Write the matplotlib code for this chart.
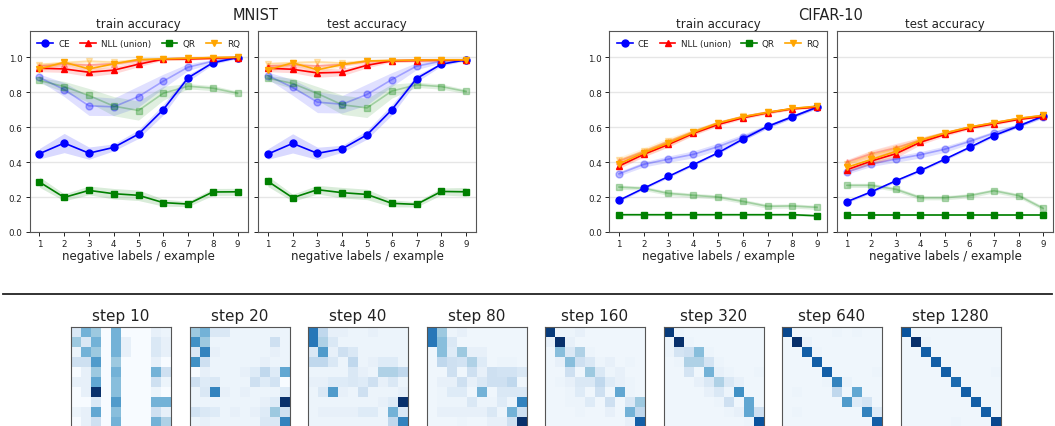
import numpy as np
import matplotlib
matplotlib.use("Agg")
import matplotlib.pyplot as plt
from matplotlib.colors import PowerNorm

# ---------------------------------------------------------------- data
neg_labels = [1, 2, 3, 4, 5, 6, 7, 8, 9]
methods = ["CE", "NLL (union)", "QR", "RQ"]

# MNIST train accuracy (solid = main run, faded = alternative run)
mnist_train_ce = [0.448, 0.509, 0.451, 0.484, 0.560, 0.700, 0.882, 0.968, 0.998]
mnist_train_ce_alt = [0.884, 0.815, 0.722, 0.716, 0.775, 0.863, 0.943, 0.977, 0.998]
mnist_train_nll = [0.937, 0.933, 0.914, 0.926, 0.960, 0.989, 0.990, 0.994, 0.998]
mnist_train_nll_alt = [0.950, 0.960, 0.955, 0.962, 0.980, 0.990, 0.995, 0.997, 0.999]
mnist_train_qr = [0.286, 0.198, 0.238, 0.219, 0.210, 0.168, 0.160, 0.229, 0.230]
mnist_train_qr_alt = [0.867, 0.832, 0.781, 0.720, 0.695, 0.794, 0.834, 0.823, 0.794]
mnist_train_rq = [0.933, 0.971, 0.933, 0.962, 0.987, 0.990, 0.994, 0.998, 1.000]
mnist_train_rq_alt = [0.958, 0.968, 0.977, 0.971, 0.985, 0.990, 0.994, 0.998, 1.000]

# MNIST test accuracy
mnist_test_ce = [0.446, 0.507, 0.450, 0.476, 0.556, 0.699, 0.878, 0.960, 0.985]
mnist_test_ce_alt = [0.895, 0.827, 0.743, 0.731, 0.787, 0.872, 0.949, 0.977, 0.985]
mnist_test_nll = [0.937, 0.931, 0.910, 0.914, 0.954, 0.979, 0.981, 0.983, 0.983]
mnist_test_nll_alt = [0.950, 0.955, 0.950, 0.958, 0.975, 0.981, 0.983, 0.984, 0.985]
mnist_test_qr = [0.290, 0.196, 0.242, 0.225, 0.215, 0.164, 0.158, 0.232, 0.230]
mnist_test_qr_alt = [0.880, 0.850, 0.792, 0.728, 0.710, 0.806, 0.842, 0.832, 0.804]
mnist_test_rq = [0.928, 0.968, 0.928, 0.958, 0.979, 0.981, 0.983, 0.985, 0.985]
mnist_test_rq_alt = [0.962, 0.968, 0.973, 0.966, 0.979, 0.981, 0.983, 0.985, 0.985]

# CIFAR-10 train accuracy
cifar_train_ce = [0.181, 0.250, 0.318, 0.385, 0.453, 0.531, 0.604, 0.659, 0.714]
cifar_train_ce_alt = [0.333, 0.387, 0.417, 0.444, 0.488, 0.541, 0.604, 0.661, 0.714]
cifar_train_nll = [0.377, 0.444, 0.501, 0.564, 0.615, 0.653, 0.682, 0.705, 0.714]
cifar_train_nll_alt = [0.405, 0.458, 0.515, 0.572, 0.624, 0.660, 0.686, 0.706, 0.718]
cifar_train_qr = [0.099, 0.099, 0.099, 0.099, 0.099, 0.099, 0.099, 0.099, 0.093]
cifar_train_qr_alt = [0.257, 0.250, 0.221, 0.210, 0.200, 0.175, 0.147, 0.149, 0.141]
cifar_train_rq = [0.390, 0.453, 0.509, 0.570, 0.623, 0.659, 0.684, 0.707, 0.720]
cifar_train_rq_alt = [0.410, 0.462, 0.520, 0.575, 0.626, 0.661, 0.686, 0.706, 0.720]

# CIFAR-10 test accuracy
cifar_test_ce = [0.173, 0.230, 0.293, 0.352, 0.417, 0.484, 0.552, 0.606, 0.663]
cifar_test_ce_alt = [0.343, 0.390, 0.417, 0.442, 0.474, 0.518, 0.566, 0.610, 0.659]
cifar_test_nll = [0.356, 0.406, 0.448, 0.514, 0.558, 0.594, 0.619, 0.644, 0.661]
cifar_test_nll_alt = [0.400, 0.448, 0.482, 0.526, 0.566, 0.600, 0.625, 0.650, 0.667]
cifar_test_qr = [0.097, 0.097, 0.097, 0.097, 0.097, 0.097, 0.097, 0.097, 0.097]
cifar_test_qr_alt = [0.267, 0.267, 0.244, 0.196, 0.196, 0.208, 0.236, 0.208, 0.135]
cifar_test_rq = [0.370, 0.415, 0.461, 0.524, 0.566, 0.600, 0.625, 0.650, 0.667]
cifar_test_rq_alt = [0.390, 0.440, 0.475, 0.528, 0.568, 0.601, 0.626, 0.651, 0.668]

# spread (half-width of shaded band) per series
mnist_train_ce_sd = [0.03, 0.055, 0.035, 0.02, 0.025, 0.03, 0.02, 0.01, 0.005]
mnist_train_ce_alt_sd = [0.02, 0.04, 0.055, 0.05, 0.06, 0.04, 0.02, 0.01, 0.005]
mnist_train_nll_sd = [0.02, 0.02, 0.025, 0.02, 0.015, 0.006, 0.005, 0.004, 0.003]
mnist_train_qr_sd = [0.03, 0.02, 0.025, 0.03, 0.03, 0.02, 0.015, 0.02, 0.02]
mnist_train_qr_alt_sd = [0.015, 0.03, 0.04, 0.055, 0.055, 0.04, 0.015, 0.015, 0.012]
mnist_train_rq_sd = [0.015, 0.01, 0.02, 0.01, 0.005, 0.004, 0.004, 0.003, 0.002]

mnist_test_ce_sd = [0.03, 0.055, 0.035, 0.02, 0.025, 0.03, 0.02, 0.01, 0.005]
mnist_test_ce_alt_sd = [0.02, 0.045, 0.06, 0.05, 0.06, 0.04, 0.02, 0.01, 0.005]
mnist_test_nll_sd = [0.02, 0.02, 0.025, 0.02, 0.015, 0.006, 0.005, 0.004, 0.003]
mnist_test_qr_sd = [0.03, 0.02, 0.025, 0.03, 0.03, 0.02, 0.015, 0.02, 0.025]
mnist_test_qr_alt_sd = [0.015, 0.03, 0.04, 0.055, 0.055, 0.04, 0.015, 0.015, 0.012]
mnist_test_rq_sd = [0.015, 0.01, 0.02, 0.01, 0.005, 0.004, 0.004, 0.003, 0.002]

cifar_train_ce_sd = [0.008, 0.008, 0.008, 0.008, 0.008, 0.008, 0.008, 0.008, 0.008]
cifar_train_ce_alt_sd = [0.012, 0.015, 0.018, 0.02, 0.02, 0.018, 0.012, 0.01, 0.008]
cifar_train_nll_sd = [0.015, 0.015, 0.015, 0.012, 0.01, 0.008, 0.008, 0.006, 0.006]
cifar_train_qr_sd = [0.006, 0.006, 0.006, 0.006, 0.006, 0.006, 0.006, 0.006, 0.006]
cifar_train_qr_alt_sd = [0.012, 0.012, 0.012, 0.012, 0.012, 0.012, 0.012, 0.012, 0.012]
cifar_train_rq_sd = [0.02, 0.02, 0.02, 0.015, 0.01, 0.008, 0.008, 0.006, 0.006]

cifar_test_ce_sd = [0.008, 0.008, 0.008, 0.008, 0.008, 0.008, 0.008, 0.008, 0.008]
cifar_test_ce_alt_sd = [0.012, 0.015, 0.018, 0.018, 0.018, 0.015, 0.012, 0.01, 0.008]
cifar_test_nll_sd = [0.015, 0.02, 0.025, 0.015, 0.01, 0.008, 0.008, 0.006, 0.006]
cifar_test_qr_sd = [0.006, 0.006, 0.006, 0.006, 0.006, 0.006, 0.006, 0.006, 0.006]
cifar_test_qr_alt_sd = [0.012, 0.012, 0.012, 0.012, 0.012, 0.012, 0.012, 0.012, 0.012]
cifar_test_rq_sd = [0.02, 0.025, 0.025, 0.015, 0.01, 0.008, 0.008, 0.006, 0.006]

# label-confusion matrices over training (intensity 0..10)
step_labels = ["step 10", "step 20", "step 40", "step 80",
               "step 160", "step 320", "step 640", "step 1280"]
conf_step10 = [
    [1, 4, 3, 0, 4, 0, 0, 0, 0.5, 0.3],
    [3, 1, 4, 0, 4, 0.5, 0, 0, 1, 0.5],
    [0.3, 4, 3, 0, 4, 0.5, 0, 0, 1, 0.5],
    [1.5, 1.5, 5, 0, 3, 0, 0, 0, 0.5, 0],
    [0, 0.5, 3, 0, 4, 0, 0, 0, 4, 1.5],
    [0.5, 0.5, 4.5, 0, 3.5, 0, 0, 0, 1.5, 0.3],
    [0, 0.5, 9.5, 0, 3.5, 0, 0, 0, 0.3, 0],
    [0, 0, 1, 0, 5, 0, 0, 0, 4, 4],
    [0.3, 0.5, 4.5, 0, 3.5, 0, 0, 0, 1.5, 0.5],
    [0, 0.5, 1.5, 0, 4, 0, 0, 0, 4, 2.5],
]
conf_step20 = [
    [3, 4, 1, 1, 0.3, 0.3, 0.3, 0.3, 0.3, 0.3],
    [5.5, 3, 0.3, 0.3, 0.3, 0.3, 0.3, 0.3, 1.5, 0.3],
    [1, 6, 0.5, 0.3, 0.3, 0.3, 0.3, 0.3, 0.5, 0.3],
    [5.5, 1.5, 0.3, 0.3, 0.3, 0.3, 0.3, 0.5, 0.3, 0.3],
    [0, 0.5, 0.3, 0.3, 0.3, 0.5, 0.8, 2, 0.8, 4.5],
    [1.5, 0.8, 1, 0.3, 0.3, 0.3, 1.5, 0.8, 1.3, 0],
    [0.3, 1, 6, 0.5, 0.3, 0.5, 0.3, 0.3, 0.3, 0.8],
    [0.3, 0.3, 0.3, 0.3, 0.3, 0.3, 0.3, 0.5, 0.8, 9.5],
    [1.3, 1, 0.8, 0.3, 0.5, 0.3, 0.5, 0.8, 3, 1.5],
    [0.3, 0.5, 0.3, 0.3, 0.3, 0.3, 0.3, 1, 1, 6],
]
conf_step40 = [
    [6.5, 2, 0.5, 0.5, 0.3, 0.3, 0.5, 0.3, 0.3, 0.3],
    [6.5, 2.5, 1, 0.3, 0.3, 0.3, 0.3, 0.3, 0.3, 0.3],
    [1, 5, 0.5, 1.5, 1, 0.3, 0.3, 0.3, 0.3, 0.3],
    [2, 2, 1, 0.3, 2, 0.3, 0.5, 0.8, 0.8, 0.3],
    [0.3, 0.3, 0.3, 0.3, 1, 0.5, 0.3, 2.5, 2.5, 2],
    [0.5, 0.5, 0.8, 0.8, 1, 0.8, 1.5, 0.5, 1, 0.3],
    [0.3, 1, 5, 0.5, 0.3, 1.5, 0.3, 0.3, 0.3, 0.5],
    [0.3, 0.3, 0.3, 0.3, 0.3, 0.3, 0.3, 0.5, 0.8, 9.5],
    [0.3, 0.5, 0.5, 0.5, 0.5, 0.8, 0.8, 0.3, 4, 1],
    [0.3, 0.3, 0.3, 0.3, 0.3, 0.3, 0.3, 0.3, 2, 6],
]
conf_step80 = [
    [6.5, 3, 0.3, 0.5, 0.2, 0.2, 0.2, 0.2, 0.2, 0.2],
    [6.5, 3.5, 1, 0.2, 0.2, 0.2, 0.2, 0.2, 0.2, 0.2],
    [0.2, 3.5, 0.8, 3, 0.5, 0.5, 0.2, 0.2, 0.2, 0.2],
    [0.2, 2, 1.5, 1.3, 2.5, 0.8, 0.2, 0.3, 0.3, 0.2],
    [0.2, 0.2, 1.5, 0.2, 1.5, 0.5, 1.5, 1.3, 1.3, 1],
    [0.2, 0.5, 0.5, 1.5, 0.5, 1, 1.5, 1.5, 2, 0.2],
    [0.2, 0.3, 0.8, 0.8, 0.2, 4, 0.2, 1, 1, 1],
    [0.2, 0.3, 0.3, 0.3, 1, 0.3, 0.3, 0.8, 0.3, 6],
    [0.2, 0.5, 0.5, 0.5, 0.5, 0.5, 1, 0.3, 4, 1.5],
    [0.2, 0.2, 0.2, 0.3, 0.2, 0.2, 0.5, 0.5, 1.5, 9.5],
]
conf_step160 = [
    [9, 0.3, 0.3, 0.5, 0.2, 0.2, 0.2, 0.2, 0.2, 0.2],
    [0.5, 9.5, 0.5, 0.2, 0.2, 0.2, 0.2, 0.2, 0.2, 0.2],
    [0.2, 3.5, 1, 2.5, 0.3, 0.2, 0.2, 0.2, 0.2, 0.2],
    [0.2, 0.5, 3.5, 1.5, 1, 0.3, 0.5, 0.2, 0.3, 0.2],
    [0.2, 0.2, 1.5, 0.2, 3, 1, 0.3, 0.5, 0.2, 0.2],
    [0.2, 0.3, 0.5, 1, 1, 2, 0.8, 0.5, 0.3, 0.2],
    [0.2, 0.2, 0.3, 0.8, 0.2, 1.5, 0.2, 4.5, 0.3, 0.2],
    [0.2, 0.2, 0.3, 0.3, 0.8, 0.2, 1.5, 0.2, 1, 3],
    [0.2, 0.2, 0.2, 0.3, 0.2, 0.2, 0.5, 0.2, 4, 2],
    [0.2, 0.2, 0.2, 0.2, 0.2, 0.2, 0.2, 0.2, 0.5, 7.5],
]
conf_step320 = [
    [9, 0.3, 0.2, 0.2, 0.2, 0.2, 0.2, 0.2, 0.2, 0.2],
    [0.3, 9.5, 0.3, 0.2, 0.2, 0.2, 0.2, 0.2, 0.2, 0.2],
    [0.3, 1.2, 1.5, 3.5, 0.3, 0.2, 0.2, 0.2, 0.2, 0.2],
    [0.2, 0.3, 2.5, 2.5, 1.2, 0.3, 0.2, 0.2, 0.2, 0.2],
    [0.2, 0.2, 1.2, 0.2, 4, 0.5, 0.3, 0.2, 0.2, 0.3],
    [0.2, 0.2, 0.2, 0.5, 1, 2.5, 1, 0.5, 0.2, 0.2],
    [0.2, 0.2, 0.2, 0.2, 0.5, 1, 0.3, 5.5, 0.2, 0.2],
    [0.2, 0.2, 0.2, 0.2, 0.2, 0.3, 1.5, 0.2, 4.5, 0.2],
    [0.2, 0.2, 0.2, 0.2, 0.2, 0.2, 0.3, 0.5, 4.5, 1.5],
    [0.2, 0.2, 0.2, 0.2, 0.2, 0.2, 0.2, 0.2, 0.3, 8],
]
conf_step640 = [
    [8.5, 0.2, 0.2, 0.2, 0.2, 0.3, 0.2, 0.3, 0.2, 0.2],
    [0.2, 9.5, 0.4, 0.2, 0.2, 0.2, 0.2, 0.2, 0.2, 0.2],
    [0.2, 0.2, 7.5, 0.3, 0.2, 0.2, 0.2, 0.2, 0.2, 0.2],
    [0.2, 0.2, 0.2, 7.5, 0.2, 0.2, 0.2, 0.2, 0.2, 0.2],
    [0.2, 0.2, 0.2, 0.2, 7.5, 0.2, 0.2, 0.2, 0.2, 0.3],
    [0.2, 0.2, 0.2, 0.2, 0.3, 6, 0.4, 0.2, 0.2, 0.2],
    [0.2, 0.3, 0.2, 0.2, 0.2, 2, 0.2, 4.5, 0.2, 0.2],
    [0.2, 0.2, 0.2, 0.2, 0.2, 0.2, 5, 0.8, 1.2, 0.2],
    [0.2, 0.3, 0.2, 0.2, 0.2, 0.2, 0.2, 0.2, 6, 0.8],
    [0.2, 0.2, 0.2, 0.2, 0.2, 0.2, 0.2, 0.2, 0.2, 7.5],
]
conf_step1280 = [
    [8, 0.2, 0.2, 0.2, 0.2, 0.2, 0.2, 0.2, 0.2, 0.2],
    [0.2, 9.5, 0.3, 0.2, 0.2, 0.2, 0.2, 0.2, 0.2, 0.2],
    [0.2, 0.2, 7.5, 0.2, 0.2, 0.2, 0.2, 0.2, 0.2, 0.2],
    [0.2, 0.2, 0.2, 7.5, 0.2, 0.2, 0.2, 0.2, 0.2, 0.2],
    [0.2, 0.2, 0.2, 0.2, 7.5, 0.2, 0.2, 0.2, 0.2, 0.3],
    [0.2, 0.2, 0.2, 0.2, 0.2, 7, 0.2, 0.2, 0.2, 0.2],
    [0.2, 0.2, 0.2, 0.2, 0.2, 0.2, 7.5, 0.2, 0.2, 0.2],
    [0.2, 0.2, 0.2, 0.2, 0.2, 0.2, 0.2, 7.5, 0.2, 0.2],
    [0.2, 0.2, 0.2, 0.2, 0.2, 0.2, 0.2, 0.2, 7.5, 0.2],
    [0.2, 0.2, 0.2, 0.2, 0.2, 0.3, 0.2, 0.2, 0.2, 8.5],
]

# ---------------------------------------------------------------- style
W, H = 1055, 427
fig = plt.figure(figsize=(W / 100, H / 100), dpi=100)

colors = {"CE": "blue", "NLL (union)": "red", "QR": "green", "RQ": "orange"}
markers = {"CE": "o", "NLL (union)": "^", "QR": "s", "RQ": "v"}
spine_color = "#555555"
text_color = "#222222"


def px_axes(left, top, width, height):
    return fig.add_axes([left / W, 1 - (top + height) / H, width / W, height / H])


def draw_panel(ax, series, title, legend=False):
    x = np.array(neg_labels)
    for name, (main, main_sd, alt, alt_sd) in zip(methods, series):
        c, m = colors[name], markers[name]
        if alt is not None:
            alt = np.array(alt)
            ax.fill_between(x, alt - np.array(alt_sd), alt + np.array(alt_sd),
                            color=c, alpha=0.12, lw=0, zorder=1)
            ax.plot(x, alt, color=c, marker=m, ms=5, lw=1.2, alpha=0.28, zorder=2)
    for name, (main, main_sd, alt, alt_sd) in zip(methods, series):
        c, m = colors[name], markers[name]
        main = np.array(main)
        ax.fill_between(x, main - np.array(main_sd), main + np.array(main_sd),
                        color=c, alpha=0.15, lw=0, zorder=3)
        ax.plot(x, main, color=c, marker=m, ms=5, lw=1.2, label=name, zorder=4)
    ax.set_xlim(0.6, 9.4)
    ax.set_ylim(0, 1.15)
    ax.set_xticks(neg_labels)
    ax.set_yticks([0, 0.2, 0.4, 0.6, 0.8, 1.0])
    ax.yaxis.grid(True, color="#e6e6e6", lw=1.0, zorder=0)
    ax.set_axisbelow(True)
    ax.tick_params(labelsize=6.3, colors=text_color, length=3, width=0.7,
                   pad=2)
    for s in ax.spines.values():
        s.set_color(spine_color)
        s.set_linewidth(0.8)
    ax.set_title(title, fontsize=8.5, color=text_color, pad=3)
    ax.set_xlabel("negative labels / example", fontsize=8.5, color=text_color,
                  labelpad=1)
    if legend:
        ax.legend(loc="upper left", bbox_to_anchor=(0.0, 1.0, 1.0, 0.0),
                  mode="expand", ncol=4, frameon=False, fontsize=6.3,
                  handlelength=1.8, handletextpad=0.6, borderaxespad=0.5,
                  labelcolor=text_color)
    else:
        ax.set_yticklabels([])


panel_top, panel_h, panel_w = 32, 201, 218

ax1 = px_axes(29.5, panel_top, panel_w, panel_h)
draw_panel(ax1, [
    (mnist_train_ce, mnist_train_ce_sd, mnist_train_ce_alt, mnist_train_ce_alt_sd),
    (mnist_train_nll, mnist_train_nll_sd, mnist_train_nll_alt, [0.01] * 9),
    (mnist_train_qr, mnist_train_qr_sd, mnist_train_qr_alt, mnist_train_qr_alt_sd),
    (mnist_train_rq, mnist_train_rq_sd, mnist_train_rq_alt, [0.01] * 9),
], "train accuracy", legend=True)

ax2 = px_axes(258, panel_top, panel_w, panel_h)
draw_panel(ax2, [
    (mnist_test_ce, mnist_test_ce_sd, mnist_test_ce_alt, mnist_test_ce_alt_sd),
    (mnist_test_nll, mnist_test_nll_sd, mnist_test_nll_alt, [0.01] * 9),
    (mnist_test_qr, mnist_test_qr_sd, mnist_test_qr_alt, mnist_test_qr_alt_sd),
    (mnist_test_rq, mnist_test_rq_sd, mnist_test_rq_alt, [0.01] * 9),
], "test accuracy")

ax3 = px_axes(609, panel_top, panel_w, panel_h)
draw_panel(ax3, [
    (cifar_train_ce, cifar_train_ce_sd, cifar_train_ce_alt, cifar_train_ce_alt_sd),
    (cifar_train_nll, cifar_train_nll_sd, cifar_train_nll_alt, cifar_train_nll_sd),
    (cifar_train_qr, cifar_train_qr_sd, cifar_train_qr_alt, cifar_train_qr_alt_sd),
    (cifar_train_rq, cifar_train_rq_sd, cifar_train_rq_alt, cifar_train_rq_sd),
], "train accuracy", legend=True)

ax4 = px_axes(837, panel_top, 216, panel_h)
draw_panel(ax4, [
    (cifar_test_ce, cifar_test_ce_sd, cifar_test_ce_alt, cifar_test_ce_alt_sd),
    (cifar_test_nll, cifar_test_nll_sd, cifar_test_nll_alt, cifar_test_nll_sd),
    (cifar_test_qr, cifar_test_qr_sd, cifar_test_qr_alt, cifar_test_qr_alt_sd),
    (cifar_test_rq, cifar_test_rq_sd, cifar_test_rq_alt, cifar_test_rq_sd),
], "test accuracy")

fig.text(256 / W, 1 - 15 / H, "MNIST", ha="center", va="center",
         fontsize=10.5, color=text_color)
fig.text(831 / W, 1 - 15 / H, "CIFAR-10", ha="center", va="center",
         fontsize=10.5, color=text_color)

# separator between the accuracy panels and the confusion matrices
fig.add_artist(plt.Line2D([0.003, 0.997], [1 - 295 / H, 1 - 295 / H],
                          transform=fig.transFigure, color="#222222", lw=1.3))

# ---------------------------------------------------------------- heatmaps
confusions = [conf_step10, conf_step20, conf_step40, conf_step80,
              conf_step160, conf_step320, conf_step640, conf_step1280]
heat_norm = PowerNorm(gamma=0.85, vmin=0, vmax=9.5)
for i, (label, mat) in enumerate(zip(step_labels, confusions)):
    hx = 71 + i * 118.5
    hax = px_axes(hx, 328, 100, 100)
    hax.imshow(np.array(mat), cmap="Blues", norm=heat_norm, aspect="auto",
               interpolation="nearest")
    hax.set_xticks([])
    hax.set_yticks([])
    for s in hax.spines.values():
        s.set_color("#555555")
        s.set_linewidth(0.8)
    hax.set_title(label, fontsize=11, color=text_color, pad=5)

fig.savefig("out.png", dpi=100)
